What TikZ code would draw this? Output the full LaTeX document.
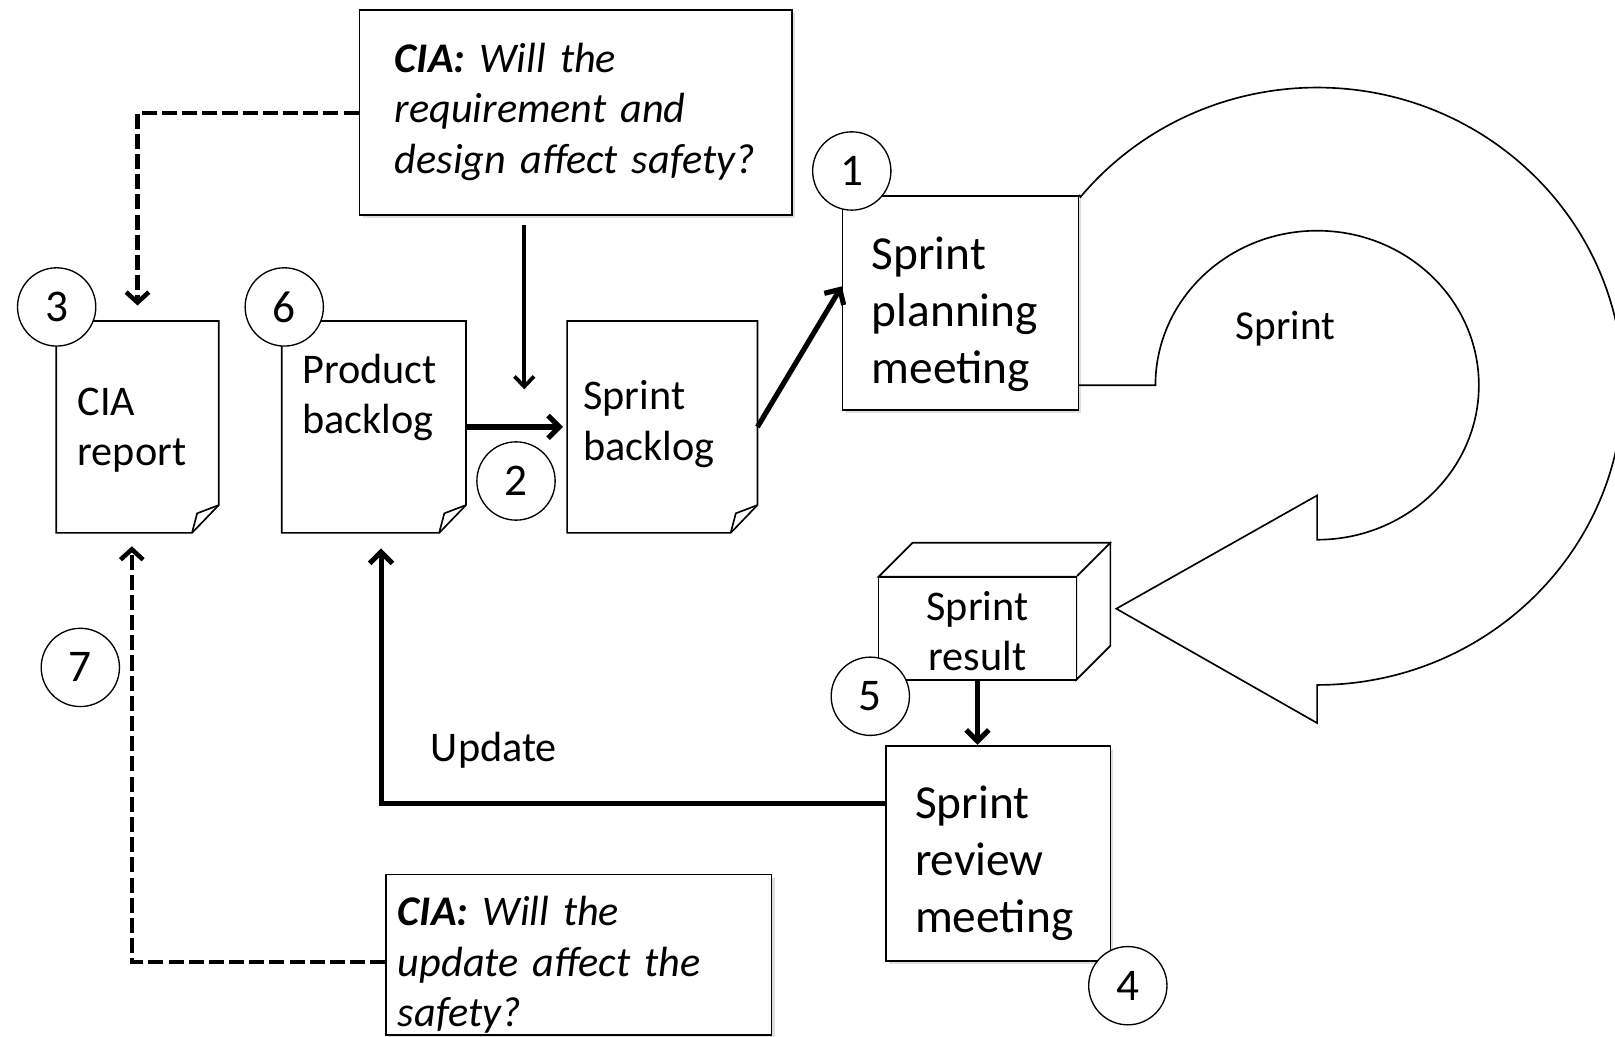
\documentclass[tikz,border=0pt]{standalone}
\usepackage{fontspec}
\setmainfont{Carlito}
\usetikzlibrary{arrows.meta,shadows,calc}
\newcommand{\fa}{\fontsize{20.5}{24.5}\selectfont}
\newcommand{\fb}{\fontsize{23}{27.5}\selectfont}
\begin{document}
\begin{tikzpicture}[x=0.5pt,y=-0.5pt,
  sbox/.style={draw, line width=0.8pt, fill=white, inner sep=0pt,
    drop shadow={shadow xshift=1.5pt, shadow yshift=-1.5pt, opacity=0.25}},
  pbox/.style={draw, line width=0.8pt, fill=white, inner sep=0pt},
  docarea/.style={inner sep=0pt},
  docline/.style={draw, line width=0.8pt, fill=white},
  txt/.style={inner sep=0pt, anchor=base west, align=left},
  num/.style={circle, draw, fill=white, line width=0.65pt, minimum size=38pt, inner sep=0pt, font=\fontsize{22}{22}\selectfont},
  thickarr/.style={line width=2.5pt, -{Straight Barb[length=5.5pt,width=11pt]}},
  medarr/.style={line width=1.8pt, -{Straight Barb[length=5pt,width=9.5pt]}},
  dasharr/.style={line width=2.2pt, dash pattern=on 7.3pt off 2.5pt, -{Straight Barb[length=5pt,width=11pt]}},
  bigarrow/.style={line width=0.8pt}
]
\path[use as bounding box] (0,0) rectangle (1568,1006);

% CIA question boxes
\node[sbox, minimum width=210pt, minimum height=99.5pt] (cia1) at (559,109.5) {};
\node[txt, text width=200pt, font=\fa\itshape] (cia1t) at (383,70) {\textbf{CIA:} Will the\\requirement and\\design affect safety?};
\node[sbox, minimum width=187pt, minimum height=78pt] (cia2) at (562,927) {};
\node[txt, text width=180pt, font=\fa\itshape] (cia2t) at (386,899) {\textbf{CIA:} Will the\\update affect the\\safety?};

% documents
\node[docarea, minimum width=78.5pt, minimum height=102.5pt] (ciarep) at (133.5,414.5) {};
\node[docarea, minimum width=89pt, minimum height=102.5pt] (prod) at (363,414.5) {};
\node[docarea, minimum width=92pt, minimum height=102.5pt] (sb) at (643,414.5) {};
\foreach \d in {ciarep,prod,sb}{
  \draw[docline] (\d.north west) -- (\d.north east) -- ($(\d.south east)+(0,-27)$)
     -- ($(\d.south east)+(-26,0)$) -- (\d.south west) -- cycle;
  \draw[line width=0.8pt] ($(\d.south east)+(-26,0)$) -- ($(\d.south east)+(-21,-19)$) -- ($(\d.south east)+(0,-27)$);
}
\node[txt, text width=70pt, font=\fa] (ciarept) at (75,403) {CIA\\report};
\node[txt, text width=80pt, font=\fa] (prodt) at (293,372) {Product\\backlog};
\node[txt, text width=80pt, font=\fa] (sbt) at (566,398) {Sprint\\backlog};

% meetings
\node[sbox, minimum width=114.5pt, minimum height=104pt] (plan) at (932.5,294) {};
\node[txt, text width=105pt, font=\fb] (plant) at (846,262) {Sprint\\planning\\meeting};
\node[sbox, minimum width=109pt, minimum height=104.5pt] (rev) at (969,828.5) {};
\node[txt, text width=100pt, font=\fb] (revt) at (888,795) {Sprint\\review\\meeting};

% sprint result cube
\draw[line width=0.8pt, fill=white] (853,560) -- ++(33,-33) -- ++(192,0) -- ++(0,100) -- (1045,660) -- (1045,560) -- cycle;
\node[pbox, minimum width=96pt, minimum height=50pt] (srf) at (949,610) {};
\draw[line width=0.8pt] (srf.north east) -- ++(33,-33);
\node[inner sep=0pt, anchor=base, align=center, text width=90pt, font=\fa] (srft) at (949,602) {Sprint\\result};

% big sprint arrow
\draw[bigarrow] ($(plan.east)+(0,80)$) -- ++(74,0)
  arc[start angle=180, end angle=450, x radius=157, y radius=150]
  -- ++(0,-43) -- ++(-195,110) -- ++(195,111) -- ++(0,-37)
  arc[start angle=450, end angle=219.3, x radius=297, y radius=290]
  -- (plan.north east);
\node[inner sep=0pt, anchor=base, font=\fontsize{20}{24}\selectfont] (sprintl) at (1248,330) {Sprint};

% connectors
\coordinate (jn) at (509,378);
\draw[medarr, shorten <=4.5pt] ([xshift=-25pt]cia1.south) -- (jn);
\draw[thickarr, shorten >=2pt] (prod.east) -- (sb.west);
\draw[thickarr] (sb.east) -- ([yshift=8pt]plan.west);
\draw[thickarr] (srf.south) -- (srf.south |- rev.north);
\draw[thickarr, shorten >=7.5pt] ([yshift=24pt]rev.west) -| ([xshift=3.5pt]prod.south);
\node[txt, font=\fa] (upd) at (418,739) {Update};
\draw[dasharr, shorten >=7.5pt] (cia1.west) -| (ciarep.north);
\draw[dasharr, shorten >=6.5pt] ([yshift=-3.5pt]cia2.west) -| ([xshift=-2.75pt]ciarep.south);

% step numbers
\node[num] (n1) at (827,166) {1};
\node[num] (n2) at (501,467) {2};
\node[num] (n3) at (55,298) {3};
\node[num] (n4) at (1095,957) {4};
\node[num] (n5) at (845,676) {5};
\node[num] (n6) at (276,298) {6};
\node[num] (n7) at (78,648) {7};
\end{tikzpicture}
\end{document}
